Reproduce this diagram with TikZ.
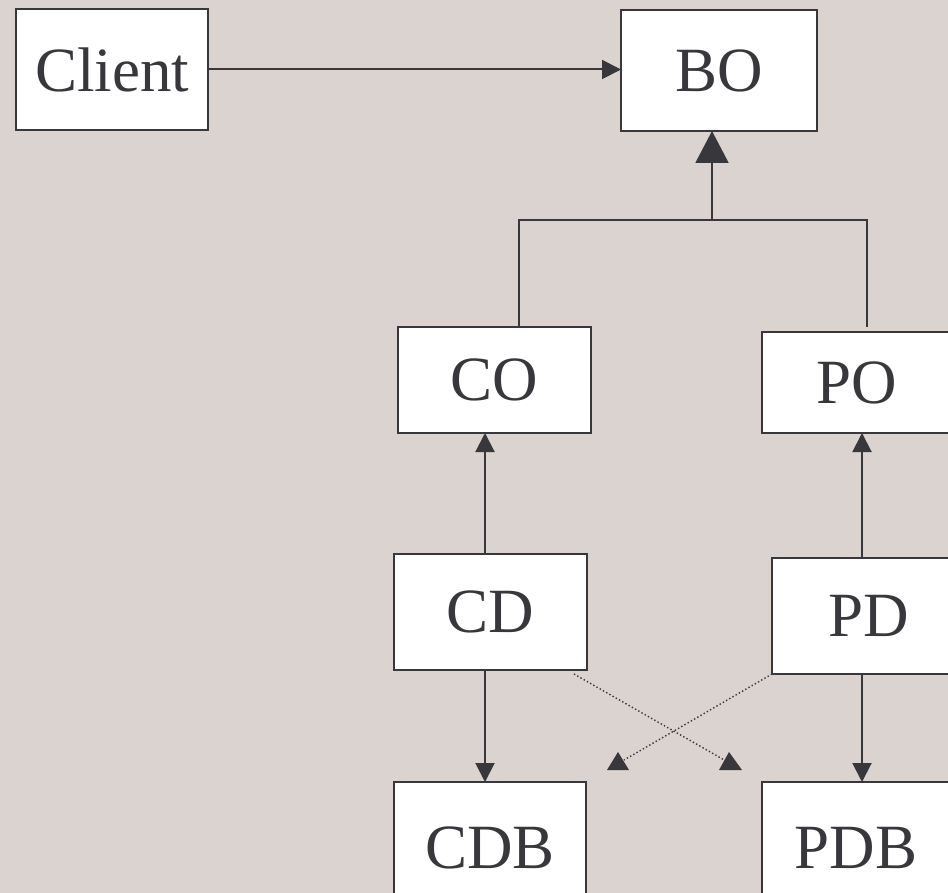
\documentclass[tikz,border=0pt]{standalone}
\usepackage{fontspec}
\setmainfont{Liberation Serif}
\usetikzlibrary{arrows.meta}
\definecolor{bgcol}{RGB}{218,211,208}
\definecolor{ink}{RGB}{56,55,60}
\tikzset{
  box/.style={draw=ink, line width=2pt, fill=white, text=ink, outer sep=0pt,
    inner sep=0pt, font=\fontsize{63}{63}\selectfont, anchor=center},
  link/.style={draw=ink, line width=2pt},
  smalltip/.style={-{Triangle[length=19pt,width=19pt]}},
  bigtip/.style={-{Triangle[length=32pt,width=33pt]}},
  hint/.style={draw=ink, line width=1.4pt, dash pattern=on 1.4pt off 2.3pt},
}
\begin{document}
\begin{tikzpicture}[x=1pt,y=-1pt]
  \useasboundingbox (0,0) rectangle (948,893);
  \clip (0,0) rectangle (948,893);
  \fill[bgcol] (0,0) rectangle (948,893);

  % boxes
  \node[box, minimum width=192pt, minimum height=121pt] (client) at (112,69.5) {Client};
  \node[box, minimum width=196pt, minimum height=121pt] (bo) at (719,70.5) {BO};
  \node[box, minimum width=193pt, minimum height=106pt] (co) at (494.5,380) {CO};
  \node[box, minimum width=190pt, minimum height=101pt] (po) at (857,382.5) {PO};
  \node[box, minimum width=193pt, minimum height=116pt] (cd) at (490.5,611.5) {CD};
  \node[box, minimum width=193pt, minimum height=116pt] (pd) at (868.5,616) {PD};
  \node[box, minimum width=192pt, minimum height=132pt] (cdb) at (490,848) {CDB};
  \node[box, minimum width=188pt, minimum height=132pt] (pdb) at (856,848) {PDB};

  % routing points
  \coordinate (jl) at (519,220);
  \coordinate (jm) at (712,220);
  \coordinate (jr) at (867,220);
  \coordinate (cx) at (485,0);
  \coordinate (px) at (862,0);
  \coordinate (cdend) at (726,761);
  \coordinate (pdend) at (624,760);
  \coordinate (cdstart) at (574,674);

  % client to BO
  \draw[link, smalltip] (client.east) -- (client.east -| bo.west);

  % CO and PO joined into BO
  \draw[link] (co.north -| jl) -- (jl) -- (jr) -- ([yshift=5pt]jr |- po.north);
  \draw[link, bigtip] (jm) -- (jm |- bo.south);

  % data objects up to business objects
  \draw[link, smalltip] (cd.north -| cx) -- (co.south -| cx);
  \draw[link, smalltip] (pd.north -| px) -- (po.south -| px);

  % data objects down to databases
  \draw[link, smalltip] (cd.south -| cx) -- (cdb.north -| cx);
  \draw[link, smalltip] (pd.south -| px) -- (pdb.north -| px);

  % crossed dotted links
  \draw[hint] (cdstart) -- (cdend);
  \draw[hint] (pd.south west) -- (pdend);
  \fill[ink] (729,752) -- (742,770) -- (719,770) -- cycle;
  \fill[ink] (618,752) -- (629,770) -- (607,770) -- cycle;
\end{tikzpicture}
\end{document}
